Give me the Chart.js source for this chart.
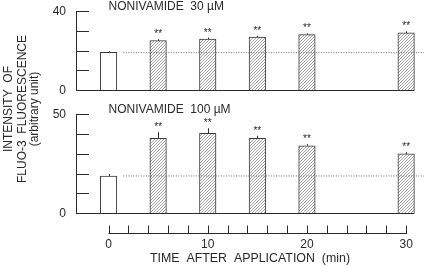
<!DOCTYPE html>
<html>
<head>
<meta charset="utf-8">
<script src="https://cdn.jsdelivr.net/npm/chart.js@4"></script>
<style>
  html, body { margin: 0; padding: 0; background: #fff; }
  #wrap { width: 426px; height: 265px; position: relative; }
</style>
</head>
<body>
<div id="wrap"><canvas id="chart"></canvas></div>
<script>
// time after application (min)
const times = [0, 5, 10, 15, 20, 30];
// nonivamide 30 uM
const low = [19.1, 25.0, 25.8, 26.8, 28.0, 28.9];
const lowErr = [0.5, 0.7, 0.7, 0.7, 0.7, 0.8];
// nonivamide 100 uM
const high = [18.8, 37.8, 40.3, 37.8, 34.0, 29.9];
const highErr = [1.0, 3.0, 2.5, 1.2, 0.8, 0.9];
const marks = ["", "**", "**", "**", "**", "**"];
// control level (dotted line)
const lowRef = 18.9;
const highRef = 18.8;
const refFrom = 1.5;

const timeTicks = [0, 2, 4, 6, 8, 10, 12, 14, 16, 18, 20, 22, 24, 26, 28, 30];
const timeLabels = [0, 10, 20, 30];
const lowTicks = [0, 10, 20, 30, 40];
const lowLabels = [0, 40];
const highTicks = [0, 10, 20, 30, 40, 50];
const highLabels = [0, 50];

const yTitle = ["INTENSITY  OF", "FLUO-3  FLUORESCENCE", "(arbitrary unit)"];
const xTitle = "TIME  AFTER  APPLICATION  (min)";

const ink = "#2a2a2a";
const font = "'Liberation Sans', Arial, sans-serif";
const barW = 16.5;
const xMin = -3.28, xMax = 31.8;

function hatch() {
    const c = document.createElement("canvas");
    c.width = 3; c.height = 3;
    const g = c.getContext("2d");
    g.fillStyle = "#fff";
    g.fillRect(0, 0, 3, 3);
    g.strokeStyle = "#9a9a9a";
    g.lineWidth = 0.9;
    g.beginPath();
    g.moveTo(0, 3); g.lineTo(3, 0);
    g.moveTo(-1, 1); g.lineTo(1, -1);
    g.moveTo(2, 4); g.lineTo(4, 2);
    g.stroke();
    return g.createPattern(c, "repeat");
}
const pat = hatch();
const fills = times.map((t, i) => i === 0 ? "#fff" : pat);

const panels = [
    { id: "yTop", ticks: lowTicks, labels: lowLabels, title: "NONIVAMIDE  30 \u00b5M", err: lowErr, vals: low },
    { id: "yBot", ticks: highTicks, labels: highLabels, title: "NONIVAMIDE  100 \u00b5M", err: highErr, vals: high }
];

function seg(ctx, x1, y1, x2, y2) {
    ctx.beginPath();
    ctx.moveTo(x1, y1);
    ctx.lineTo(x2, y2);
    ctx.stroke();
}
const r = v => Math.round(v) + 0.5;

const panelAxes = {
    id: "panelAxes",
    afterDatasetsDraw(chart) {
        const { ctx, chartArea: a, scales } = chart;
        const x = scales.x;
        ctx.save();
        ctx.strokeStyle = ink;
        ctx.fillStyle = ink;
        ctx.lineWidth = 1;
        const right = x.getPixelForValue(times[times.length - 1]) + barW / 2;

        panels.forEach((p, k) => {
            const y = scales[p.id];
            const y0 = y.getPixelForValue(0);
            const yMax = y.getPixelForValue(p.ticks[p.ticks.length - 1]);
            seg(ctx, r(a.left), r(yMax), r(a.left), r(y0));
            seg(ctx, a.left, r(y0), right, r(y0));
            p.ticks.forEach(t => {
                const py = r(y.getPixelForValue(t));
                seg(ctx, a.left, py, a.left + 13, py);
            });
            ctx.font = "12px " + font;
            ctx.textAlign = "right";
            ctx.textBaseline = "middle";
            p.labels.forEach(t => ctx.fillText(String(t), a.left - 10, y.getPixelForValue(t) + 0.5));

            ctx.textAlign = "left";
            ctx.fillText(p.title, x.getPixelForValue(0), yMax - 4);

            // error bars and significance marks
            const meta = chart.getDatasetMeta(k);
            meta.data.forEach((el, i) => {
                const top = y.getPixelForValue(p.vals[i] + p.err[i]);
                const bx = r(el.x);
                seg(ctx, bx, el.y, bx, top);
                if (marks[i]) {
                    ctx.font = "10px " + font;
                    ctx.textAlign = "center";
                    ctx.textBaseline = "alphabetic";
                    ctx.fillText(marks[i], el.x, top - 2);
                }
            });
        });

        // time axis with upward ticks
        const yb = r(a.bottom);
        seg(ctx, x.getPixelForValue(timeTicks[0]), yb, x.getPixelForValue(timeTicks[timeTicks.length - 1]) + 1, yb);
        timeTicks.forEach(t => {
            const px = r(x.getPixelForValue(t));
            seg(ctx, px, yb, px, yb - 8);
        });

        // shared y title
        ctx.font = "12px " + font;
        ctx.textAlign = "center";
        ctx.textBaseline = "middle";
        ctx.translate(0, 109);
        ctx.rotate(-Math.PI / 2);
        const cols = [9, 22.5, 34.5];
        yTitle.forEach((line, i) => ctx.fillText(line, 0, cols[i]));
        ctx.restore();
    }
};

const refLine = (id, level) => ({
    type: "line",
    data: [{ x: refFrom, y: level }, { x: xMax, y: level }],
    yAxisID: id,
    borderColor: "#707070",
    borderWidth: 1,
    borderDash: [1, 1.5],
    pointRadius: 0,
    order: 1
});

const barSet = (id, vals) => ({
    type: "bar",
    data: times.map((t, i) => ({ x: t, y: vals[i] })),
    yAxisID: id,
    backgroundColor: fills,
    borderColor: "#3a3a3a",
    borderWidth: 1,
    barThickness: barW,
    grouped: false,
    order: 2
});

new Chart(document.getElementById("chart"), {
    data: {
        datasets: [
            barSet("yTop", low),
            barSet("yBot", high),
            refLine("yTop", lowRef),
            refLine("yBot", highRef)
        ]
    },
    options: {
        responsive: true,
        maintainAspectRatio: false,
        animation: false,
        layout: { padding: { left: 76, top: 11, right: 2, bottom: 0 } },
        plugins: { legend: { display: false }, tooltip: { enabled: false } },
        scales: {
            x: {
                type: "linear",
                offset: false,
                min: xMin,
                max: xMax,
                grid: { display: false, drawTicks: false },
                border: { display: false },
                afterBuildTicks: s => { s.ticks = timeTicks.map(v => ({ value: v })); },
                afterFit: s => { s.height = 32.3; },
                ticks: {
                    autoSkip: false,
                    maxRotation: 0,
                    padding: 5,
                    color: ink,
                    font: { family: font, size: 12 },
                    callback: v => timeLabels.includes(v) ? String(v) : ""
                },
                title: {
                    display: true,
                    text: xTitle,
                    color: ink,
                    font: { family: font, size: 12.4, lineHeight: 1 },
                    padding: { top: 0, bottom: 0 }
                }
            },
            yTop: { type: "linear", display: false, min: -72.25, max: 40 },
            yBot: { type: "linear", display: false, min: -9.77, max: 101.86 }
        }
    },
    plugins: [panelAxes]
});
</script>
</body>
</html>
